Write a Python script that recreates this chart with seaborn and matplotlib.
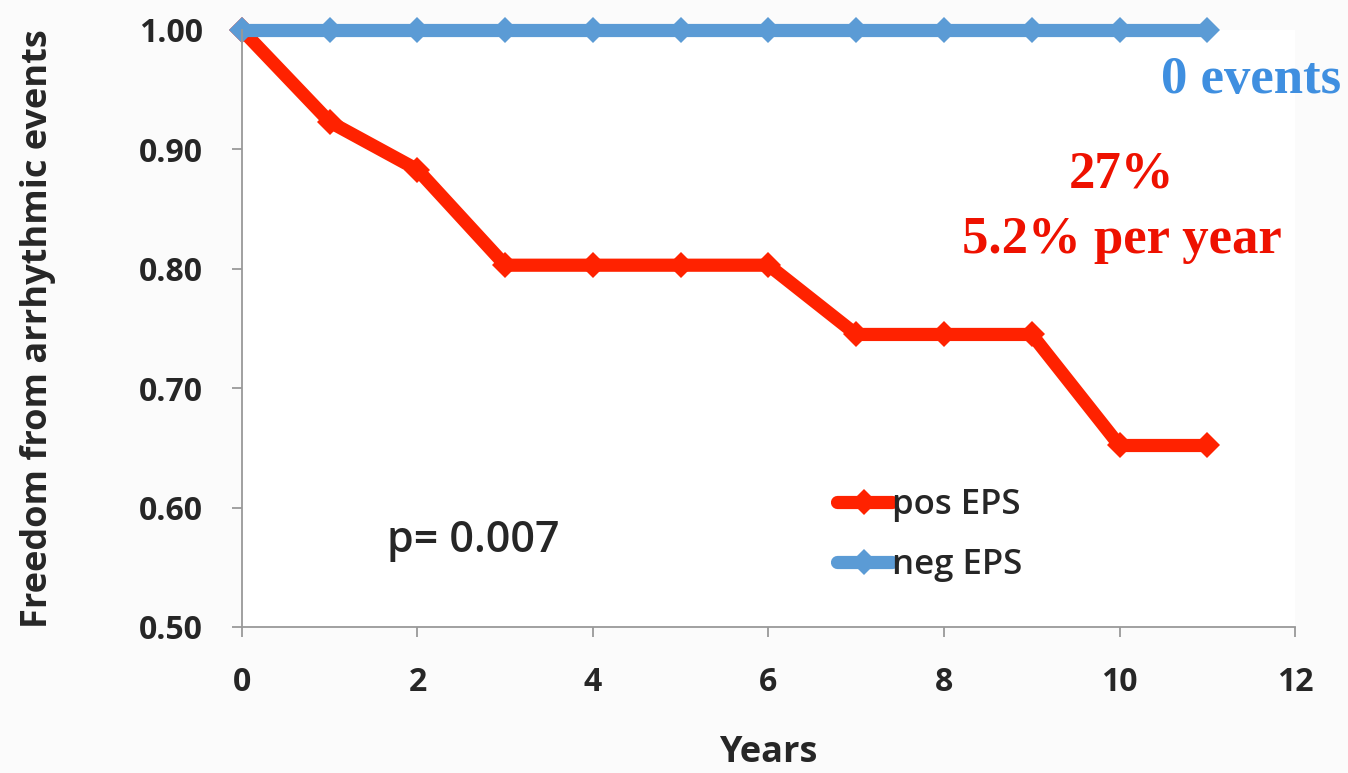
import pandas as pd
import matplotlib.pyplot as plt
import seaborn as sns

# Data
years = [0, 1, 2, 3, 4, 5, 6, 7, 8, 9, 10, 11]
pos_eps = [1.00, 0.923, 0.883, 0.803, 0.803, 0.803, 0.803, 0.745, 0.745, 0.745, 0.652, 0.652]
neg_eps = [1.00] * 12
series_names = ['pos EPS', 'neg EPS']
y_ticks = [0.50, 0.60, 0.70, 0.80, 0.90, 1.00]
x_ticks = [0, 2, 4, 6, 8, 10, 12]

df = pd.DataFrame({
    'Years': years * 2,
    'value': pos_eps + neg_eps,
    'series': [series_names[0]] * len(years) + [series_names[1]] * len(years),
})

sns.set_style('ticks')
plt.rcParams['font.family'] = ['Open Sans', 'DejaVu Sans']

fig = plt.figure(figsize=(13.48, 7.73), dpi=100)
fig.patch.set_facecolor('#fbfbfb')
ax = fig.add_axes([0.1795, 0.1889, 0.7812, 0.7723])
ax.set_facecolor('white')

palette = {'pos EPS': '#ff2200', 'neg EPS': '#5b9bd5'}
sns.lineplot(data=df, x='Years', y='value', hue='series', palette=palette,
             hue_order=series_names, marker='D', markersize=13, linewidth=9.5,
             markeredgewidth=0, ax=ax, clip_on=False, legend=True)

ax.set_xlim(0, 12)
ax.set_ylim(0.5, 1.0)
ax.set_xticks(x_ticks)
ax.set_yticks(y_ticks)
ax.set_yticklabels([f'{v:.2f}' for v in y_ticks])
for lab in ax.get_xticklabels() + ax.get_yticklabels():
    lab.set_fontweight('bold')
    lab.set_fontsize(23)
ax.tick_params(axis='x', length=7, width=1.3, color='#999999', pad=21)
ax.tick_params(axis='y', length=7, width=1.3, color='#999999', pad=21)
for side in ['left', 'bottom']:
    ax.spines[side].set_color('#999999')
    ax.spines[side].set_linewidth(1.3)
sns.despine(ax=ax)

ax.set_xlabel('Years', fontsize=26, fontweight='bold', labelpad=26)
ax.set_ylabel('Freedom from arrhythmic events', fontsize=26, fontweight='bold', labelpad=60)

leg = ax.legend(loc='upper left', bbox_to_anchor=(0.535, 0.285), frameon=False,
                fontsize=25, handlelength=1.6, handletextpad=0.0, labelspacing=0.75)
for t in leg.get_texts():
    t.set_fontweight('semibold')

ax.text(0.138, 0.145, 'p= 0.007', transform=ax.transAxes, fontsize=31,
        fontweight='semibold', ha='left', va='center')
fig.text(0.995, 0.897, '0 events', color='#3f8fe0', fontsize=38, fontweight='bold',
         family='Liberation Serif', ha='right', va='center')
fig.text(0.832, 0.774, '27%', color='#ee1100', fontsize=38, fontweight='bold',
         family='Liberation Serif', ha='center', va='center')
fig.text(0.832, 0.690, '5.2% per year', color='#ee1100', fontsize=38, fontweight='bold',
         family='Liberation Serif', ha='center', va='center')

fig.savefig('out.png', dpi=100, facecolor=fig.get_facecolor())
